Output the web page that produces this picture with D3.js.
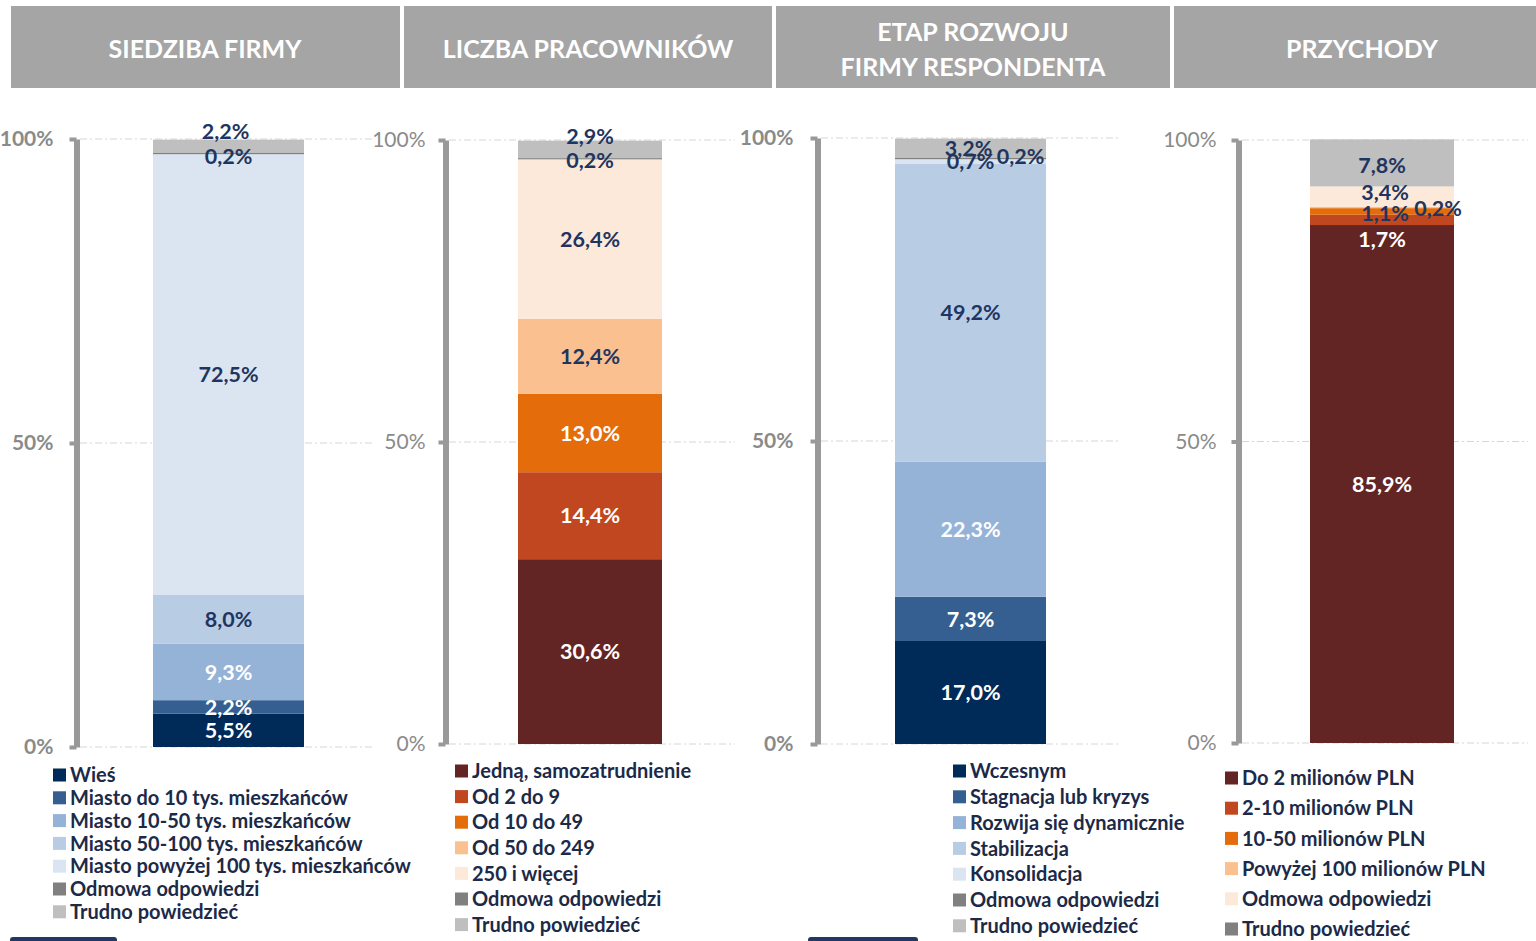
<!DOCTYPE html>
<html>
<head>
<meta charset="utf-8">
<script src="https://cdn.jsdelivr.net/npm/d3@7"></script>
<style>
  html, body { margin: 0; padding: 0; background: #fff; }
  svg { display: block; font-family: Lato, 'Open Sans', sans-serif; }
</style>
</head>
<body>
<svg id="chart" width="1536" height="941"></svg>
<script>
// values, bottom segment first
const titles = [['SIEDZIBA FIRMY'], ['LICZBA PRACOWNIKÓW'], ['ETAP ROZWOJU', 'FIRMY RESPONDENTA'], ['PRZYCHODY']]

const siedzibaCats = ['Wieś', 'Miasto do 10 tys. mieszkańców', 'Miasto 10-50 tys. mieszkańców', 'Miasto 50-100 tys. mieszkańców', 'Miasto powyżej 100 tys. mieszkańców', 'Odmowa odpowiedzi', 'Trudno powiedzieć']
const siedzibaVals = [5.5, 2.2, 9.3, 8.0, 72.5, 0.2, 2.2]

const pracownicyCats = ['Jedną, samozatrudnienie', 'Od 2 do 9', 'Od 10 do 49', 'Od 50 do 249', '250 i więcej', 'Odmowa odpowiedzi', 'Trudno powiedzieć']
const pracownicyVals = [30.6, 14.4, 13.0, 12.4, 26.4, 0.2, 2.9]

const etapCats = ['Wczesnym', 'Stagnacja lub kryzys', 'Rozwija się dynamicznie', 'Stabilizacja', 'Konsolidacja', 'Odmowa odpowiedzi', 'Trudno powiedzieć']
const etapVals = [17.0, 7.3, 22.3, 49.2, 0.7, 0.2, 3.2]

const przychodyCats = ['Do 2 milionów PLN', '2-10 milionów PLN', '10-50 milionów PLN', 'Powyżej 100 milionów PLN', 'Odmowa odpowiedzi', 'Trudno powiedzieć']
const przychodyVals = [85.9, 1.7, 1.1, 0.2, 3.4, 7.8]

const yTicks = [0, 50, 100]

const BLUES = ['#002a57', '#365f91', '#95b3d7', '#b8cce4', '#dbe5f1', '#808080', '#bfbfbf']
const REDS = ['#632523', '#c0471f', '#e46c0a', '#fac090', '#fde9d9', '#808080', '#bfbfbf']
const REVENUE = ['#632523', '#c0471f', '#e46c0a', '#fac090', '#fde9d9', '#bfbfbf']
const REVENUE_LEGEND = ['#632523', '#c0471f', '#e46c0a', '#fac090', '#fde9d9', '#808080']

const DARK_TEXT = '#1f3560'
const LEGEND_TEXT = '#1c2a48'

const panels = [
  { cats: siedzibaCats, vals: siedzibaVals, colors: BLUES, legendColors: BLUES,
    header: [11, 400], titleX: 205, axisX: 77, top: 139, bottom: 747, bar: [153, 304], gridEnd: 372, tickBold: true, tickPad: 16,
    legendX: 53, legendY: 775, legendStep: 22.8,
    nudge: { 5: [0, 3], 6: [-3, -15] }, darkOverride: [5] },
  { cats: pracownicyCats, vals: pracownicyVals, colors: REDS, legendColors: REDS,
    header: [404, 772], titleX: 588, axisX: 446, top: 140, bottom: 744, bar: [518, 662], gridEnd: 735, tickBold: false, tickPad: 13,
    legendX: 455, legendY: 771, legendStep: 25.6,
    nudge: { 5: [0, 2], 6: [0, -13] }, darkOverride: [5] },
  { cats: etapCats, vals: etapVals, colors: BLUES, legendColors: BLUES,
    header: [776, 1170], titleX: 973, axisX: 818, top: 138, bottom: 744, bar: [895, 1046], gridEnd: 1120, tickBold: true, tickPad: 17,
    legendX: 953, legendY: 771, legendStep: 25.8,
    nudge: { 4: [0, 0], 5: [50, -2], 6: [-2, 0] }, darkOverride: [5] },
  { cats: przychodyCats, vals: przychodyVals, colors: REVENUE, legendColors: REVENUE_LEGEND,
    header: [1174, 1536], titleX: 1362, axisX: 1239, top: 140, bottom: 743, bar: [1310, 1454], gridEnd: 1528, tickBold: false, tickPad: 15,
    legendX: 1225, legendY: 778, legendStep: 30.2,
    nudge: { 1: [0, 19], 2: [3, 2], 3: [56, 1], 4: [3, -4], 5: [0, 2] },
    darkOverride: [2] }
]

const svg = d3.select('#chart')

// header boxes
panels.forEach((p, i) => {
  svg.append('rect')
    .attr('x', p.header[0]).attr('y', 6)
    .attr('width', p.header[1] - p.header[0]).attr('height', 82)
    .attr('fill', '#a5a5a5')
  const lines = titles[i]
  const t = svg.append('text')
    .attr('text-anchor', 'middle')
    .attr('fill', '#fff')
    .attr('font-size', '25px')
    .attr('font-weight', 700)
  lines.forEach((ln, j) => {
    t.append('tspan')
      .attr('x', p.titleX)
      .attr('y', lines.length === 1 ? 49 : 32 + j * 35)
      .attr('dy', '0.35em')
      .text(ln)
  })
})

panels.forEach((p, pi) => {
  const g = svg.append('g')
  const y = d3.scaleLinear().domain([0, 100]).range([p.bottom, p.top])
  const x = d3.scaleBand().domain(['bar']).range(p.bar).padding(0)

  // dashed gridlines
  g.append('g').selectAll('line')
    .data(yTicks)
    .join('line')
    .attr('x1', p.axisX + 3).attr('x2', p.gridEnd)
    .attr('y1', d => y(d)).attr('y2', d => y(d))
    .attr('stroke', '#d6d6d6')
    .attr('stroke-width', 1)
    .attr('stroke-dasharray', '7,3,2,3')

  // stacked bar
  const row = {}
  p.cats.forEach((c, i) => { row[c] = p.vals[i] })
  const series = d3.stack().keys(p.cats)([row])

  g.append('g').selectAll('rect')
    .data(series)
    .join('rect')
    .attr('x', x('bar'))
    .attr('width', x.bandwidth())
    .attr('y', s => y(s[0][1]))
    .attr('height', s => y(s[0][0]) - y(s[0][1]))
    .attr('fill', (s, i) => p.colors[i])

  // axis
  const axis = g.append('g')
    .attr('transform', `translate(${p.axisX - 0.5},0)`)
    .call(d3.axisLeft(y).tickValues(yTicks).tickFormat(d => d + '%').tickSize(7).tickSizeOuter(0).tickPadding(p.tickPad))
  axis.select('.domain').attr('stroke', '#999').attr('stroke-width', 6)
  axis.selectAll('.tick line').attr('stroke', '#999').attr('stroke-width', 4)
  axis.selectAll('.tick text')
    .attr('fill', '#8a8a8a')
    .attr('font-size', '21px')
    .attr('font-family', 'Lato, sans-serif')
    .attr('font-weight', p.tickBold ? 700 : 400)

  // data labels
  const fmt = v => v.toFixed(1).replace('.', ',') + '%'
  g.append('g').selectAll('text')
    .data(series)
    .join('text')
    .attr('text-anchor', 'middle')
    .attr('x', (s, i) => x('bar') + x.bandwidth() / 2 + (p.nudge[i] ? p.nudge[i][0] : 0))
    .attr('y', (s, i) => y((s[0][0] + s[0][1]) / 2) + (p.nudge[i] ? p.nudge[i][1] : 0))
    .attr('dy', '0.36em')
    .attr('font-size', '21.5px')
    .attr('font-weight', 700)
    .attr('fill', (s, i) => {
      if (p.darkOverride && p.darkOverride.includes(i)) return DARK_TEXT
      return d3.lab(p.colors[i]).l < 75 ? '#fff' : DARK_TEXT
    })
    .text((s, i) => fmt(p.vals[i]))

  // legend
  const leg = g.append('g').selectAll('g')
    .data(p.cats)
    .join('g')
    .attr('transform', (d, i) => `translate(${p.legendX},${p.legendY + i * p.legendStep})`)
  leg.append('rect')
    .attr('x', 0).attr('y', -6.5)
    .attr('width', 13).attr('height', 13)
    .attr('fill', (d, i) => p.legendColors[i])
  leg.append('text')
    .attr('x', 17)
    .attr('dy', '0.36em')
    .attr('font-size', '20px')
    .attr('font-weight', 700)
    .attr('fill', LEGEND_TEXT)
    .text(d => d)
})

// cut-off shapes at the bottom edge
svg.append('g').selectAll('rect')
  .data([[10, 117], [808, 918]])
  .join('rect')
  .attr('x', d => d[0]).attr('y', 937)
  .attr('width', d => d[1] - d[0]).attr('height', 8)
  .attr('rx', 3)
  .attr('fill', '#1f3864')
</script>
</body>
</html>
